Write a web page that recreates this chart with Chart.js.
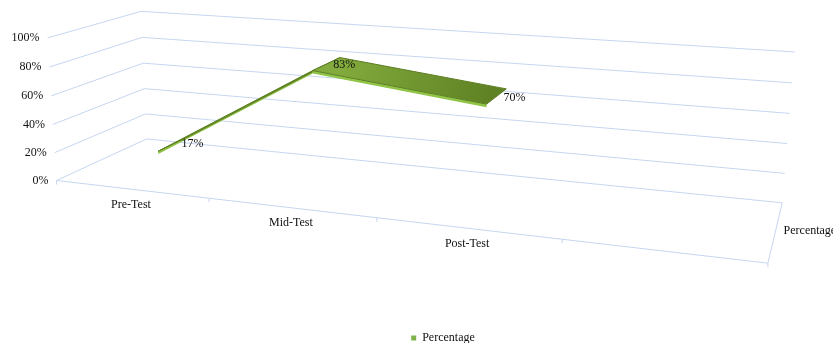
<!DOCTYPE html>
<html>
<head>
<meta charset="utf-8">
<title>Percentage</title>
<script src="https://cdn.jsdelivr.net/npm/chart.js@4.4.0/dist/chart.umd.min.js"></script>
<style>
  body { margin: 0; background: #fff; }
  canvas { display: block; }
</style>
</head>
<body>
<canvas id="grafico" width="833" height="343"></canvas>
<script>
const categories = ['Pre-Test', 'Mid-Test', 'Post-Test', ''];
const percentages = [0.17, 0.83, 0.70, null];
const valueTicks = [0, 0.2, 0.4, 0.6, 0.8, 1];
const valueTickLabels = ['0%', '20%', '40%', '60%', '80%', '100%'];
const seriesName = 'Percentage';

const FONT = '12px "Liberation Serif", "Times New Roman", serif';
const GRID = '#c6d6ef';
const INK = '#111';

// where the corners of the 3D box land on screen: [X, Y, Z, px, py]
// X = category axis, Y = value axis, Z = depth (0 front, 1 back)
const boxAnchors = [
  [0, 0, 0, 58, 181], [0, 1, 0, 46, 38], [0, 0, 1, 145, 138], [0, 1, 1, 143, 12],
  [1, 0, 1, 783, 202], [1, 1, 1, 795, 52], [1, 0, 0, 767, 265],
  [0.25, 0, 0, 210, 199], [0.5, 0, 0, 377, 218],
  [0, 0.2, 1, 144, 115], [0, 0.4, 1, 144, 89], [0, 0.6, 1, 144, 63], [0, 0.8, 1, 143, 38],
  [1, 0.2, 1, 785, 173], [1, 0.4, 1, 787, 143], [1, 0.6, 1, 789, 113], [1, 0.8, 1, 792, 83],
  [0, 0.2, 0, 56, 152], [0, 0.4, 0, 53, 123], [0, 0.6, 0, 51, 95], [0, 0.8, 0, 48, 67]
];

// ribbon depth range
const ribbonFront = 0.31;
const ribbonBack = 0.7;
const ribbonThick = 0.02;

// least squares fit of a 3x4 perspective camera (DLT)
function fitCamera(pts) {
  const n = 11, s = 100;
  const M = Array.from({ length: n }, () => new Array(n + 1).fill(0));
  const addRow = (row, rhs) => {
    for (let i = 0; i < n; i++) {
      for (let j = 0; j < n; j++) M[i][j] += row[i] * row[j];
      M[i][n] += row[i] * rhs;
    }
  };
  pts.forEach(([X, Y, Z, pu, pv]) => {
    const u = pu / s, v = pv / s;
    addRow([X, Y, Z, 1, 0, 0, 0, 0, -u * X, -u * Y, -u * Z], u);
    addRow([0, 0, 0, 0, X, Y, Z, 1, -v * X, -v * Y, -v * Z], v);
  });
  for (let c = 0; c < n; c++) {
    let p = c;
    for (let r = c + 1; r < n; r++) if (Math.abs(M[r][c]) > Math.abs(M[p][c])) p = r;
    [M[c], M[p]] = [M[p], M[c]];
    for (let r = 0; r < n; r++) {
      if (r === c) continue;
      const f = M[r][c] / M[c][c];
      for (let k = c; k <= n; k++) M[r][k] -= f * M[c][k];
    }
  }
  const p = M.map((row, i) => row[n] / row[i]);
  return (X, Y, Z) => {
    const w = p[8] * X + p[9] * Y + p[10] * Z + 1;
    return [s * (p[0] * X + p[1] * Y + p[2] * Z + p[3]) / w,
            s * (p[4] * X + p[5] * Y + p[6] * Z + p[7]) / w];
  };
}

const project = fitCamera(boxAnchors);

function polyline(ctx, pts) {
  ctx.beginPath();
  pts.forEach((p, i) => i ? ctx.lineTo(p[0], p[1]) : ctx.moveTo(p[0], p[1]));
}

const box3d = {
  id: 'box3d',
  beforeDatasetsDraw(chart) {
    const { ctx, scales: { x, y } } = chart;
    const nx = v => (x.getPixelForValue(v) - x.left) / x.width;
    const ny = v => (y.bottom - y.getPixelForValue(v)) / y.height;
    const P = (X, Y, Z) => project(X, Y, Z);

    ctx.save();
    ctx.lineWidth = 1;
    ctx.strokeStyle = GRID;

    // walls: left side and back
    y.ticks.forEach(t => {
      const Y = ny(t.value);
      polyline(ctx, [P(0, Y, 0), P(0, Y, 1), P(1, Y, 1)]);
      ctx.stroke();
    });
    // floor: category axis and depth axis
    polyline(ctx, [P(1, 0, 1), P(1, 0, 0), P(0, 0, 0)]);
    ctx.stroke();
    for (let i = 0; i <= categories.length; i++) {
      const b = P(nx(i - 0.5), 0, 0);
      polyline(ctx, [b, [b[0], b[1] + 4]]);
      ctx.stroke();
    }

    // value labels
    ctx.font = FONT;
    ctx.fillStyle = INK;
    ctx.textAlign = 'right';
    ctx.textBaseline = 'middle';
    y.ticks.forEach((t, i) => {
      const p = P(0, ny(t.value), 0);
      ctx.fillText(valueTickLabels[i], p[0] - 8, p[1]);
    });

    // category labels
    ctx.textAlign = 'center';
    categories.forEach((c, i) => {
      const p = P(nx(i), 0, 0);
      ctx.fillText(c, p[0], p[1] + 15.5);
    });

    // depth axis label
    const d = P(1, 0, 0.5);
    ctx.textAlign = 'left';
    ctx.fillText(seriesName, d[0] + 8, d[1]);

    // ribbon
    for (let i = 0; i < percentages.length - 1; i++) {
      const v0 = percentages[i], v1 = percentages[i + 1];
      if (v0 == null || v1 == null) continue;
      const X0 = nx(i), X1 = nx(i + 1), Y0 = ny(v0), Y1 = ny(v1);

      // front side of the ribbon
      polyline(ctx, [P(X0, Y0, ribbonFront), P(X1, Y1, ribbonFront),
                     P(X1, Y1 - ribbonThick, ribbonFront), P(X0, Y0 - ribbonThick, ribbonFront)]);
      ctx.closePath();
      ctx.fillStyle = '#8fc447';
      ctx.fill();

      // top face
      const top = [P(X0, Y0, ribbonFront), P(X1, Y1, ribbonFront), P(X1, Y1, ribbonBack), P(X0, Y0, ribbonBack)];
      const g = ctx.createLinearGradient(top[3][0], top[3][1], top[1][0], top[1][1]);
      g.addColorStop(0, '#83ab3d');
      g.addColorStop(1, '#5f8224');
      polyline(ctx, top);
      ctx.closePath();
      ctx.fillStyle = g;
      ctx.fill();
      ctx.strokeStyle = '#5c7d21';
      ctx.lineWidth = 1;
      ctx.stroke();
    }

    // data labels
    ctx.fillStyle = INK;
    ctx.textAlign = 'left';
    ctx.textBaseline = 'middle';
    percentages.forEach((v, i) => {
      if (v == null) return;
      const p = P(nx(i), ny(v), 0.5);
      ctx.fillText(Math.round(v * 100) + '%', p[0] + 7, p[1] + 1);
    });

    ctx.restore();
    return false;
  }
};

new Chart(document.getElementById('grafico'), {
  type: 'line',
  data: {
    labels: categories,
    datasets: [{
      label: seriesName,
      data: percentages,
      backgroundColor: '#7fb24a',
      borderColor: '#7fb24a',
      borderWidth: 0
    }]
  },
  options: {
    responsive: false,
    animation: false,
    layout: { padding: { left: 53, bottom: -11 } },
    scales: {
      x: { type: 'category', offset: true, display: false },
      y: {
        min: 0, max: 1, display: false,
        afterBuildTicks: s => { s.ticks = valueTicks.map(v => ({ value: v })); }
      }
    },
    plugins: {
      legend: {
        position: 'bottom',
        labels: {
          boxWidth: 5, boxHeight: 5, color: INK, padding: 8,
          font: { family: '"Liberation Serif", "Times New Roman", serif', size: 12 }
        }
      },
      tooltip: { enabled: false }
    }
  },
  plugins: [box3d]
});
</script>
</body>
</html>
